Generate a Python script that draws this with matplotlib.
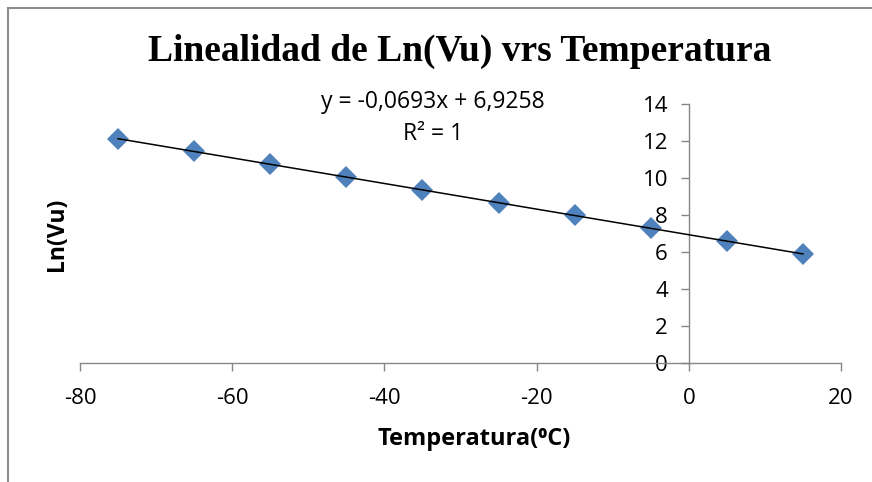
import matplotlib
matplotlib.use("Agg")
import matplotlib.pyplot as plt
from matplotlib.patches import Rectangle
import numpy as np

plt.rcParams['axes.unicode_minus'] = False

# Temperatures (C) and Ln(Vu) readings
temperatura = [-75, -65, -55, -45, -35, -25, -15, -5, 5, 15]
ln_vu = [12.12, 11.43, 10.74, 10.04, 9.35, 8.66, 7.97, 7.27, 6.58, 5.89]

# Linear fit shown on the chart
pendiente = -0.0693
intercepto = 6.9258

x_ticks = [-80, -60, -40, -20, 0, 20]
y_ticks = [0, 2, 4, 6, 8, 10, 12, 14]

sans = ['Open Sans', 'DejaVu Sans']
gris = '#868686'

fig = plt.figure(figsize=(8.72, 4.82), dpi=100)
ax = fig.add_axes([80 / 872, 1 - 362.7 / 482, 761 / 872, 258.7 / 482])

ax.plot(temperatura, ln_vu, linestyle='none', marker='D', markersize=11.5,
        color='#4F81BD', markeredgewidth=0, zorder=3)

xs = np.array([temperatura[0], temperatura[-1]])
ax.plot(xs, pendiente * xs + intercepto, color='black', linewidth=1.1, zorder=4)

ax.set_xlim(-80, 20)
ax.set_ylim(0, 14)
ax.set_xticks(x_ticks)
ax.set_yticks(y_ticks)

# axes crossing at the origin
ax.spines['left'].set_position(('data', 0))
ax.spines['bottom'].set_position(('data', 0))
ax.spines['top'].set_visible(False)
ax.spines['right'].set_visible(False)
for s in ('left', 'bottom'):
    ax.spines[s].set_color(gris)
    ax.spines[s].set_linewidth(1.0)
ax.tick_params(axis='both', direction='out', color=gris, width=1.0, length=6,
               labelsize=16, labelcolor='black')
ax.tick_params(axis='x', pad=12)
ax.tick_params(axis='y', pad=9)
for lbl in ax.get_xticklabels() + ax.get_yticklabels():
    lbl.set_family(sans)

ax.text(-33.6, 14.1, 'y = -0,0693x + 6,9258', ha='center', va='center',
        fontsize=16.5, family=sans)
ax.text(-33.6, 12.4, 'R² = 1', ha='center', va='center',
        fontsize=16.5, family=sans)

fig.text(460 / 872, 1 - 61 / 482, 'Linealidad de Ln(Vu) vrs Temperatura',
         ha='center', va='baseline', fontsize=27, fontweight='bold',
         family=['Liberation Serif', 'DejaVu Serif'])
fig.text(474 / 872, 1 - 445 / 482, 'Temperatura(⁰C)', ha='center',
         va='baseline', fontsize=17, fontweight='bold', family=sans)
fig.text(57 / 872, 1 - 234 / 482, 'Ln(Vu)', ha='center', va='center',
         rotation=90, fontsize=16.5, fontweight='bold', family=sans)

# chart area border
fig.patches.append(Rectangle((8 / 872, -0.1), 1.0, 1.1 - 7.5 / 482,
                             transform=fig.transFigure, fill=False,
                             edgecolor='#8c8c8c', linewidth=1.5))

fig.savefig('out.png', dpi=100)
